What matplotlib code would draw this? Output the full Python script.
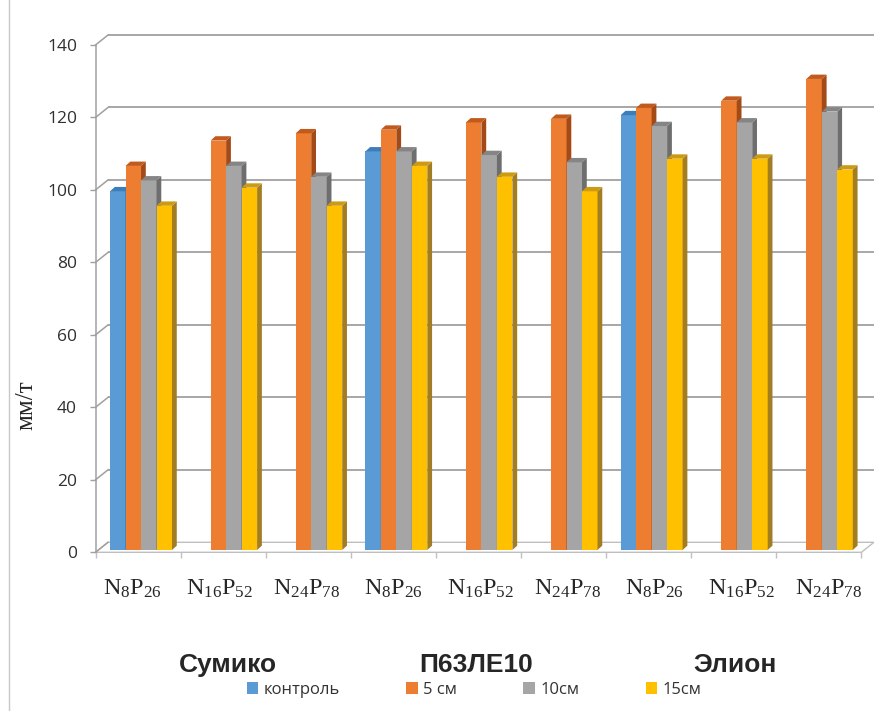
import numpy as np
import matplotlib
matplotlib.use("Agg")
import matplotlib.pyplot as plt
from matplotlib.patches import Polygon, Patch

plt.rcParams['font.family'] = ['Open Sans', 'DejaVu Sans']
plt.rcParams['mathtext.fontset'] = 'custom'
plt.rcParams['mathtext.rm'] = 'Liberation Serif'
plt.rcParams['mathtext.it'] = 'Liberation Serif:italic'

# ---- data -------------------------------------------------------------
categories = [r'$\mathrm{N_{8}P_{26}}$', r'$\mathrm{N_{16}P_{52}}$', r'$\mathrm{N_{24}P_{78}}$'] * 3
groups = ['Сумико', 'П63ЛЕ10', 'Элион']
series_names = ['контроль', '5 см', '10см', '15см']
control = [99, np.nan, np.nan, 110, np.nan, np.nan, 120, np.nan, np.nan]
cm5 = [106, 113, 115, 116, 118, 119, 122, 124, 130]
cm10 = [102, 106, 103, 110, 109, 107, 117, 118, 121]
cm15 = [95, 100, 95, 106, 103, 99, 108, 108, 105]
y_ticks = [0, 20, 40, 60, 80, 100, 120, 140]
y_label = 'мм/т'

series = [control, cm5, cm10, cm15]
front_colors = ['#5B9BD5', '#ED7D31', '#A5A5A5', '#FFC000']
top_colors = ['#3D7DBA', '#C25A1E', '#858585', '#CC9B12']
side_colors = ['#35699A', '#A34A17', '#6E6E6E', '#A37D22']

# ---- figure & axes ----------------------------------------------------
W, H = 890, 711
fig = plt.figure(figsize=(W / 100, H / 100), dpi=100)
ax = fig.add_axes([95.5 / W, (H - 552.3) / H, 765.9 / W, 507.3 / H])
n = len(cm5)
ax.set_xlim(0, n)
ax.set_ylim(0, 140)
ax.patch.set_visible(False)
for s in ['top', 'right', 'bottom']:
    ax.spines[s].set_visible(False)
ax.spines['left'].set_color('#A0A0A0')
ax.spines['left'].set_linewidth(1.1)

ax.set_yticks(y_ticks)
ax.set_yticklabels([str(v) for v in y_ticks])
ax.tick_params(axis='y', direction='out', length=4.3, width=1.0, color='#A0A0A0',
               pad=9, labelsize=12.5, labelcolor='#303030')
ax.set_xticks(np.arange(n + 1))
ax.tick_params(axis='x', direction='out', length=4.3, width=1.0, color='#C0C0C0',
               labelbottom=False)

# 3-D box: depth offsets of the back wall (data units)
DX, DY = 0.147, 2.76
grid_c = '#A0A0A0'

# floor
floor = Polygon([(0, 0), (n, 0), (n + DX, DY), (DX, DY)], closed=True,
                facecolor='white', edgecolor='#BFBFBF', lw=1.0, clip_on=False, zorder=1)
ax.add_patch(floor)

# back-wall gridlines and side-wall diagonals
for v in y_ticks:
    if v > 0:
        ax.plot([DX, n + DX], [v + DY, v + DY], color=grid_c, lw=1.3,
                clip_on=False, zorder=1.5, solid_capstyle='butt')
    ax.plot([0, DX], [v, v + DY], color=grid_c, lw=1.1, clip_on=False, zorder=1.5)

# bars
shift_x, shift_y = 0.035, 0.63     # bars sit a little behind the floor front edge
BDX, BDY = 0.056, 1.20             # bar depth
bw = 0.182
margin = (1 - 4 * bw) / 2
for i in range(n):
    for j, vals in enumerate(series):
        v = vals[i]
        if np.isnan(v):
            continue
        x0 = i + shift_x + margin + j * bw
        x1 = x0 + bw
        b = shift_y
        t = shift_y + v
        z = 3 + i * 0.1 + j * 0.01
        ax.add_patch(Polygon([(x0, b), (x1, b), (x1, t), (x0, t)], closed=True,
                             facecolor=front_colors[j], edgecolor='none',
                             clip_on=False, zorder=z))
        ax.add_patch(Polygon([(x1, b), (x1 + BDX, b + BDY), (x1 + BDX, t + BDY), (x1, t)],
                             closed=True, facecolor=side_colors[j], edgecolor='none',
                             clip_on=False, zorder=z))
        ax.add_patch(Polygon([(x0, t), (x1, t), (x1 + BDX, t + BDY), (x0 + BDX, t + BDY)],
                             closed=True, facecolor=top_colors[j], edgecolor='none',
                             clip_on=False, zorder=z))

# category labels
label_step = 1.0235
for i, lab in enumerate(categories):
    ax.text(0.43 + i * label_step, -11.8, lab, ha='center', va='baseline',
            fontsize=17.5, color='#262626', clip_on=False)

# variety labels
group_x = [228, 476, 735]
for gx, g in zip(group_x, groups):
    fig.text(gx / W, 1 - 672 / H, g, ha='center', va='baseline', fontsize=19,
             fontweight='bold', family='Liberation Sans', color='#262626')

# y-axis title
fig.text(26 / W, 1 - 405 / H, y_label, rotation=90, ha='center', va='center',
         fontsize=18, family='Liberation Serif', color='#262626')

# legend
handles = [Patch(facecolor=c, edgecolor='none') for c in front_colors]
fig.legend(handles, series_names, loc='center', bbox_to_anchor=(474 / W, 1 - 690 / H),
           ncol=4, frameon=False, fontsize=12, handlelength=0.7, handleheight=0.7,
           handletextpad=0.3, columnspacing=4.0, borderpad=0.2, labelcolor='#333333')

# chart area edge
fig.add_artist(plt.Line2D([8.5 / W, 8.5 / W], [0, 1], color='#C8C8C8', lw=1.0))

fig.savefig('out.png', dpi=100, facecolor='white')
